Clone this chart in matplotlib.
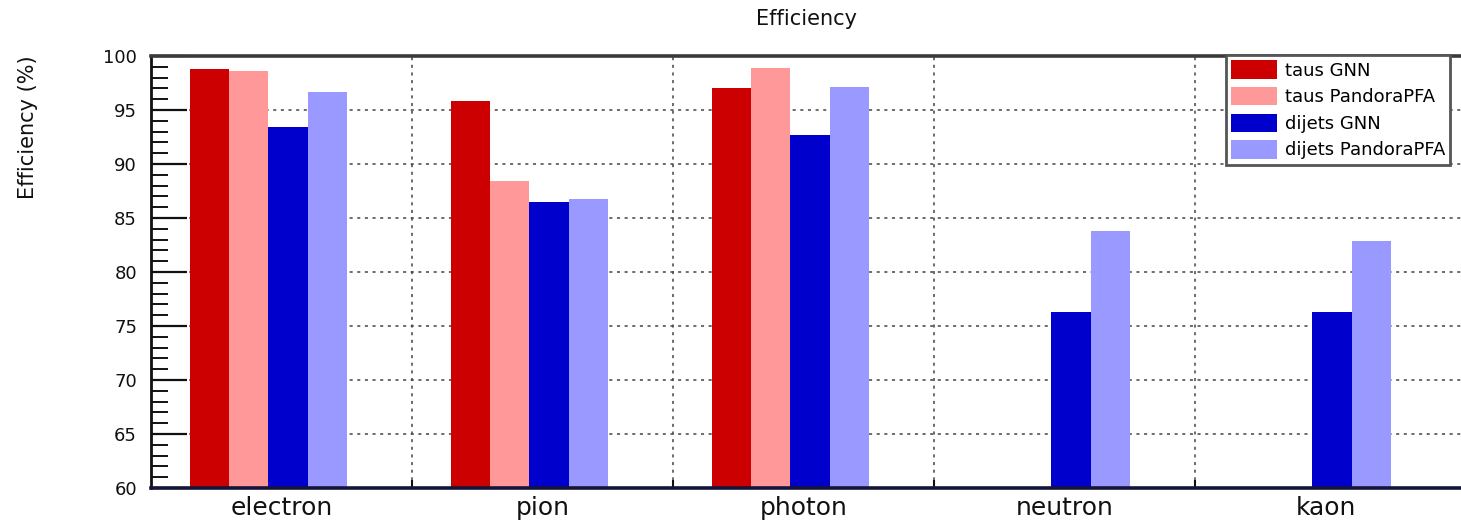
import numpy as np
import matplotlib
matplotlib.use("Agg")
import matplotlib.pyplot as plt
from matplotlib.ticker import MultipleLocator, FixedLocator

# Particle categories and efficiencies (%)
categories = ["electron", "pion", "photon", "neutron", "kaon"]
taus_gnn = [98.8, 95.8, 97.0, np.nan, np.nan]
taus_pandora = [98.6, 88.4, 98.9, np.nan, np.nan]
dijets_gnn = [93.4, 86.5, 92.7, 76.3, 76.3]
dijets_pandora = [96.7, 86.8, 97.1, 83.8, 82.9]

series = [
    ("taus GNN", taus_gnn, "#cc0000"),
    ("taus PandoraPFA", taus_pandora, "#ff9999"),
    ("dijets GNN", dijets_gnn, "#0000cc"),
    ("dijets PandoraPFA", dijets_pandora, "#9999ff"),
]

W, H = 1461, 524
fig = plt.figure(figsize=(W / 100, H / 100), dpi=100)

# frame in pixel units; x range runs slightly past the right edge of the canvas
x0_px, bin_px = 151, 261
xmax = 5.04
top_px, bot_px = 56, 488
ax = fig.add_axes([x0_px / W, 1 - bot_px / H, bin_px * xmax / W, (bot_px - top_px) / H])

bar_offset, bar_width = 0.15, 0.15
n = len(categories)
edges = np.arange(n)
for j, (label, vals, color) in enumerate(series):
    xs = edges + bar_offset + j * bar_width
    ax.bar(xs, vals, width=bar_width, align="edge", color=color,
           edgecolor="none", label=label, zorder=3)

ax.set_xlim(0, xmax)
ax.set_ylim(60, 100)

# y axis: ticks drawn inward, majors every 5, minors every 1
ax.yaxis.set_major_locator(MultipleLocator(5))
ax.yaxis.set_minor_locator(MultipleLocator(1))
ax.tick_params(axis="y", which="major", direction="in", length=26, width=1.6,
               labelsize=13, pad=10, colors="#111111")
ax.tick_params(axis="y", which="minor", direction="in", length=12, width=1.4,
               colors="#111111")

# x axis: category names at bin centres, small ticks at bin edges
ax.set_xticks(edges + 0.5)
ax.set_xticklabels(categories, fontsize=18, color="#111111")
ax.xaxis.set_minor_locator(FixedLocator(np.arange(1, n)))
ax.tick_params(axis="x", which="major", length=0, pad=6)
ax.tick_params(axis="x", which="minor", direction="in", length=6, width=1.5,
               colors="#111111")

# dotted grid behind the bars
grid_kw = dict(color="#444444", linewidth=1.1, linestyle=(0, (2, 3)), zorder=1)
for yv in range(65, 100, 5):
    ax.axhline(yv, **grid_kw)
for xv in range(1, n):
    ax.axvline(xv, **grid_kw)

# frame styling
ax.spines["left"].set_linewidth(2.0)
ax.spines["left"].set_color("#111111")
ax.spines["bottom"].set_linewidth(2.6)
ax.spines["bottom"].set_color("#15153a")
ax.spines["top"].set_linewidth(2.6)
ax.spines["top"].set_color("#3a3a3a")
ax.spines["right"].set_visible(False)
for sp in ax.spines.values():
    sp.set_zorder(4)

# titles
fig.text(807 / W, 1 - 19 / H, "Efficiency", ha="center", va="center",
         fontsize=15, color="#111111")
fig.text(28 / W, 1 - 55 / H, "Efficiency (%)", rotation=90, ha="center",
         va="top", fontsize=15, color="#111111")

# legend box in the upper right corner
leg = ax.legend(loc="upper left", bbox_to_anchor=(1226 / W, 1 - 55 / H),
                bbox_transform=fig.transFigure, fontsize=13, frameon=True,
                fancybox=False, borderaxespad=0, borderpad=0.3,
                handlelength=2.55, handleheight=1.2, handletextpad=0.4,
                labelspacing=0.4)
frame = leg.get_frame()
frame.set_edgecolor("#555555")
frame.set_linewidth(2.0)
frame.set_facecolor("white")
frame.set_alpha(1.0)
leg.set_zorder(6)

fig.savefig("out.png", dpi=100)
